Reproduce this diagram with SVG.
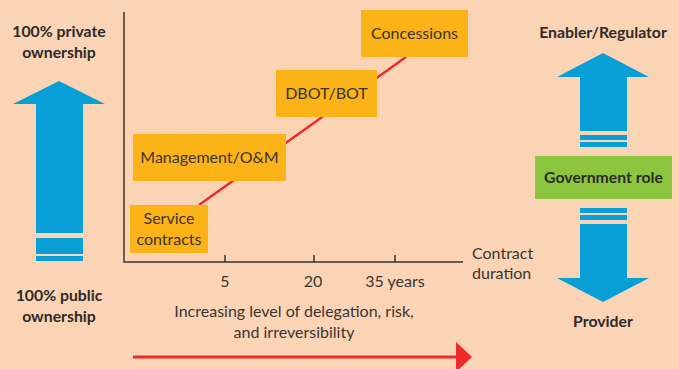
<svg xmlns="http://www.w3.org/2000/svg" width="679" height="369" viewBox="0 0 679 369">
<style>
.t{font-family:Lato,"Open Sans",sans-serif;font-size:16px;fill:#3a3433}
.b{font-family:Lato,"Open Sans",sans-serif;font-size:15.8px;font-weight:bold;fill:#2e2a2a}
.box{fill:#FBB317}
.blue{fill:#089FD6}
.axis{stroke:#3a3433;stroke-width:1.5;fill:none}
</style>
<rect width="679" height="369" fill="#FBD4B5"/>
<g id="left-arrow">
<polygon class="blue" points="59,81 105,104 83,104 83,233 36,233 36,104 13,104"/>
<rect class="blue" x="36" y="238" width="47" height="16"/>
<rect class="blue" x="36" y="256" width="47" height="5"/>
<text class="b" x="59" y="37" text-anchor="middle">100% private</text>
<text class="b" x="59" y="58" text-anchor="middle">ownership</text>
<text class="b" x="59" y="301" text-anchor="middle">100% public</text>
<text class="b" x="59" y="322" text-anchor="middle">ownership</text>
</g>
<g id="axes">
<path class="axis" d="M124,12 V262 H463 M225,255 V262 M314,255 V262 M395,255 V262"/>
<text class="t" x="225" y="287" text-anchor="middle">5</text>
<text class="t" x="313" y="287" text-anchor="middle">20</text>
<text class="t" x="395" y="287" text-anchor="middle">35 years</text>
<text class="t" x="472" y="259">Contract</text>
<text class="t" x="472" y="279">duration</text>
<text class="t" x="294" y="317" text-anchor="middle">Increasing level of delegation, risk,</text>
<text class="t" x="294" y="338" text-anchor="middle">and irreversibility</text>
</g>
<g id="connectors">
<line x1="199" y1="205" x2="406" y2="57" stroke="#EE2A2A" stroke-width="2.5"/>
<line x1="133" y1="357" x2="458" y2="357" stroke="#EE2A2A" stroke-width="3"/>
<polygon points="456,342 472,357 456,372" fill="#EE2A2A"/>
</g>
<g id="service-contracts">
<rect class="box" x="130" y="205" width="78" height="48"/>
<text class="t" x="169" y="224" text-anchor="middle">Service</text>
<text class="t" x="169" y="245" text-anchor="middle">contracts</text>
</g>
<g id="management">
<rect class="box" x="133" y="134" width="153" height="47"/>
<text class="t" x="209.5" y="163" text-anchor="middle">Management/O&amp;M</text>
</g>
<g id="dbot">
<rect class="box" x="276" y="70" width="101" height="47"/>
<text class="t" x="326.5" y="99" text-anchor="middle">DBOT/BOT</text>
</g>
<g id="concessions">
<rect class="box" x="361" y="10" width="107" height="47"/>
<text class="t" x="414.5" y="39" text-anchor="middle">Concessions</text>
</g>
<g id="government">
<text class="b" x="603" y="38" text-anchor="middle">Enabler/Regulator</text>
<polygon class="blue" points="603,53 649,77 627,77 627,131 580,131 580,77 557,77"/>
<rect class="blue" x="580" y="135" width="47" height="5"/>
<rect class="blue" x="580" y="142" width="47" height="5"/>
<rect x="535" y="156" width="137" height="43" fill="#8CC63F"/>
<text class="b" x="603.5" y="183" text-anchor="middle">Government role</text>
<rect class="blue" x="580" y="208" width="47" height="5"/>
<rect class="blue" x="580" y="215" width="47" height="5"/>
<polygon class="blue" points="580,224 627,224 627,278 649,278 603,302 557,278 580,278"/>
<text class="b" x="603" y="327" text-anchor="middle">Provider</text>
</g>
</svg>
